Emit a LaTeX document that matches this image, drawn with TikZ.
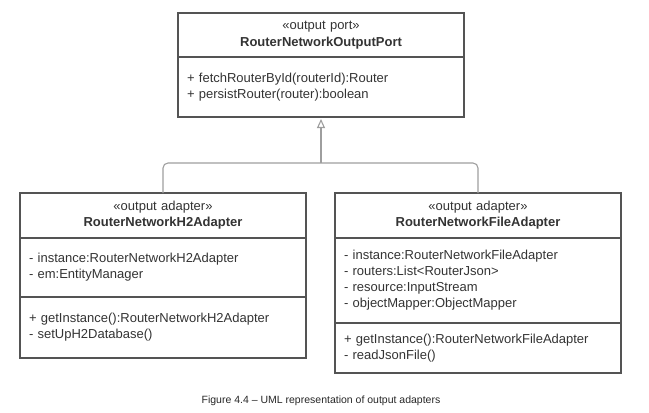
\documentclass[tikz,border=0pt]{standalone}
\usepackage{fontspec}
\setmainfont{Liberation Sans}
\usetikzlibrary{arrows.meta,calc,positioning}
\definecolor{LineClr}{rgb}{0.33,0.33,0.33}
\definecolor{TextClr}{rgb}{0.2,0.2,0.2}
\definecolor{LinkClr}{rgb}{0.62,0.62,0.62}

\begin{document}
\begin{tikzpicture}[x=1pt,y=-1pt,
  every node/.style={text=TextClr,font=\fontsize{13}{16}\selectfont},
  classhead/.style={draw=LineClr,line width=1.3pt,rectangle,minimum width=286pt,
    inner xsep=9pt,inner ysep=0pt,outer sep=0pt,text width=268pt,align=center},
  classpart/.style={classhead,align=left},
  gen/.style={draw=LinkClr,line width=1.1pt}]
\useasboundingbox (0,0) rectangle (649,413);

% output port
\node[classhead,minimum height=44pt,anchor=north west,font=\fontsize{13}{17}\selectfont] (portHead) at (178,13)
  {«output port»\\\textbf{RouterNetworkOutputPort}};
\node[classpart,minimum height=60pt,below=0pt of portHead] (portBody)
  {+ fetchRouterById(routerId):Router\\+ persistRouter(router):boolean};

% H2 adapter
\node[classhead,minimum height=45pt,anchor=north west] (h2Head) at (20,193)
  {«output adapter»\\\textbf{RouterNetworkH2Adapter}};
\node[classpart,minimum height=59pt,below=0pt of h2Head] (h2Attr)
  {- instance:RouterNetworkH2Adapter\\- em:EntityManager};
\node[classpart,minimum height=61pt,below=0pt of h2Attr] (h2Ops)
  {+ getInstance():RouterNetworkH2Adapter\\- setUpH2Database()};

% file adapter
\node[classhead,minimum height=45pt,anchor=north west] (fileHead) at (335,193)
  {«output adapter»\\\textbf{RouterNetworkFileAdapter}};
\node[classpart,minimum height=85pt,below=0pt of fileHead] (fileAttr)
  {- instance:RouterNetworkFileAdapter\\- routers:List<RouterJson>\\- resource:InputStream\\- objectMapper:ObjectMapper};
\node[classpart,minimum height=50pt,below=0pt of fileAttr] (fileOps)
  {+ getInstance():RouterNetworkFileAdapter\\- readJsonFile()};

% generalisation
\coordinate (fork) at ($(portBody.south |- h2Head.north)+(0,-30)$);
\draw[gen,rounded corners=5pt] (h2Head.north) |- (fork) -| (fileHead.north);
\draw[gen,-{Triangle[open,length=9pt,width=8pt]},shorten >=2pt] (fork) -- (portBody.south);

\node[font=\fontsize{10.5}{12}\selectfont,text=black!85] (caption) at (321,401)
  {Figure 4.4 – UML representation of output adapters};
\end{tikzpicture}
\end{document}
